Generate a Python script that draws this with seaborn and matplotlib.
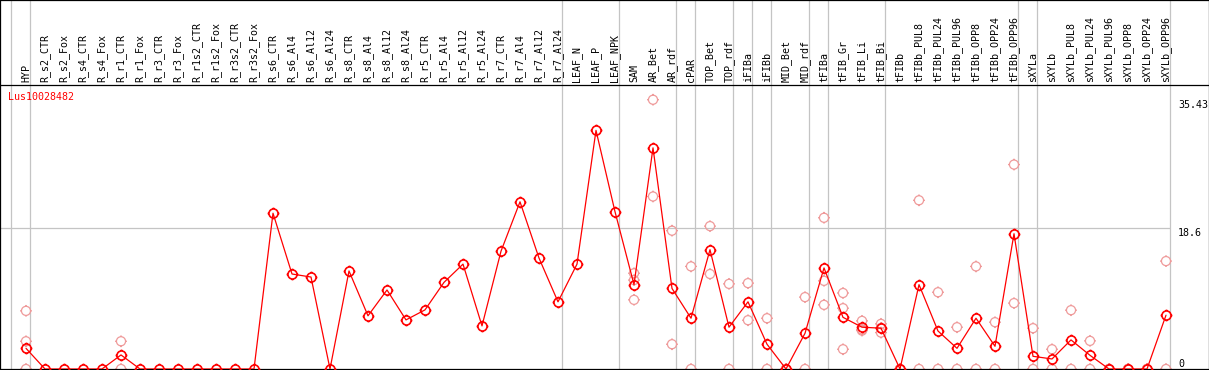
import numpy as np
import pandas as pd
import matplotlib
matplotlib.use("Agg")
import matplotlib.pyplot as plt
import matplotlib.transforms as mtransforms
from matplotlib.path import Path
import seaborn as sns

gene = "Lus10028482"
categories = [
    "HYP", "R_s2_CTR", "R_s2_Fox", "R_s4_CTR", "R_s4_Fox", "R_r1_CTR", "R_r1_Fox",
    "R_r3_CTR", "R_r3_Fox", "R_r1s2_CTR", "R_r1s2_Fox", "R_r3s2_CTR", "R_r3s2_Fox",
    "R_s6_CTR", "R_s6_Al4", "R_s6_Al12", "R_s6_Al24", "R_s8_CTR", "R_s8_Al4",
    "R_s8_Al12", "R_s8_Al24", "R_r5_CTR", "R_r5_Al4", "R_r5_Al12", "R_r5_Al24",
    "R_r7_CTR", "R_r7_Al4", "R_r7_Al12", "R_r7_Al24", "LEAF_N", "LEAF_P", "LEAF_NPK",
    "SAM", "AR_Bet", "AR_rdf", "cPAR", "TOP_Bet", "TOP_rdf", "iFIBa", "iFIBb",
    "MID_Bet", "MID_rdf", "tFIBa", "tFIB_Gr", "tFIB_Li", "tFIB_Bi", "tFIBb",
    "tFIBb_PUL8", "tFIBb_PUL24", "tFIBb_PUL96", "tFIBb_OPP8", "tFIBb_OPP24",
    "tFIBb_OPP96", "sXYLa", "sXYLb", "sXYLb_PUL8", "sXYLb_PUL24", "sXYLb_PUL96",
    "sXYLb_OPP8", "sXYLb_OPP24", "sXYLb_OPP96",
]
mean_values = [
    2.72, 0, 0, 0, 0, 1.85, 0,
    0, 0, 0, 0, 0, 0,
    20.5, 12.5, 12.1, 0, 12.9, 7.0,
    10.4, 6.46, 7.78, 11.4, 13.8, 5.67,
    15.5, 22.0, 14.6, 8.84, 13.8, 31.4, 20.7,
    11.1, 29.1, 10.6, 6.68, 15.7, 5.5, 8.84, 3.26,
    0, 4.7, 13.3, 6.8, 5.5, 5.37, 0,
    11.1, 5.0, 2.72, 6.68, 2.99,
    17.8, 1.67, 1.32, 3.83, 1.8, 0,
    0, 0, 7.08,
]
nan = np.nan
rep1 = [
    7.65, nan, nan, nan, nan, 3.65, nan,
    nan, nan, nan, nan, nan, nan,
    nan, nan, nan, nan, nan, nan,
    nan, nan, nan, nan, nan, nan,
    nan, nan, nan, nan, nan, nan, nan,
    12.6, 35.43, 18.2, 13.5, 18.8, 11.2, 11.3, 6.68,
    0, 9.46, 19.9, 10.0, 6.33, 5.94, 0,
    22.2, 10.1, 5.5, 13.5, 6.16,
    26.9, 5.37, 2.6, 7.74, 3.7, 0,
    0, 0, 14.2,
]
rep2 = [
    3.65, nan, nan, nan, nan, 0, nan,
    nan, nan, nan, nan, nan, nan,
    nan, nan, nan, nan, nan, nan,
    nan, nan, nan, nan, nan, nan,
    nan, nan, nan, nan, nan, nan, nan,
    11.7, 22.7, 3.26, 0, 12.5, 0, 6.42, 0,
    0, 0, 11.6, 8.0, 5.05, 4.79, 0,
    0, 0, 0, 0, 0,
    8.67, 0, 0, 0, 0, 0,
    0, 0, 0,
]
rep3 = [
    0, nan, nan, nan, nan, nan, nan,
    nan, nan, nan, nan, nan, nan,
    nan, nan, nan, nan, nan, nan,
    nan, nan, nan, nan, nan, nan,
    nan, nan, nan, nan, nan, nan, nan,
    9.1, nan, nan, nan, nan, nan, nan, nan,
    nan, nan, 8.44, 2.6, 5.2, 5.4, nan,
    nan, nan, nan, nan, nan,
    nan, nan, nan, nan, nan, nan,
    nan, nan, nan,
]
group_ends = [-1, 0, 28, 31, 34, 35, 37, 38, 39, 41, 42, 45, 52, 53, 60]
tick_values = [35.43, 18.6, 0]
tick_labels = ["35.43", "18.6", "0"]

sns.set_theme(style="white")
plt.rcParams['font.family'] = ['DejaVu Sans Mono', 'DejaVu Sans']

RED = "#ff0000"
PALE = "#ef9a9a"
GRAY = "#c4c4c4"
W, H = 1209, 370
head_h = 85
x0, step = 26, 19
ppu = 7.6

fig = plt.figure(figsize=(W / 100, H / 100), dpi=100)
fig.patch.set_facecolor("white")
ax = fig.add_axes([0, 1 / H, 1, (369 - head_h) / H])
axh = fig.add_axes([0, (H - head_h) / H, 1, head_h / H])

xlim = (-x0 / step, (W - x0) / step)
for a in (ax, axh):
    a.set_xlim(*xlim)
    a.set_facecolor("white")
    a.set_xticks([])
    a.set_yticks([])
    for s in a.spines.values():
        s.set_color("black")
        s.set_linewidth(0.9)
ax.spines["top"].set_visible(False)
ax.set_ylim(0, (369 - head_h) / ppu)
axh.set_ylim(0, 1)

# group separators
for b in group_ends:
    for a in (ax, axh):
        a.axvline(b + 0.23, color=GRAY, lw=0.9, zorder=0)

# horizontal grid line at mid tick
ax.hlines(tick_values[1], xlim[0], (1170 - x0) / step, color=GRAY, lw=0.9, zorder=0)

# marker: circle with 4 small ticks
circ = Path.circle((0, 0), 1.0)
verts = list(circ.vertices)
codes = list(circ.codes)
for a_, b_ in [((0, 1), (0, 1.3)), ((0, -1), (0, -1.3)), ((1, 0), (1.3, 0)), ((-1, 0), (-1.3, 0))]:
    verts += [a_, b_]
    codes += [Path.MOVETO, Path.LINETO]
mk = Path(verts, codes)

idx = np.arange(len(categories))
reps = pd.DataFrame({"idx": np.concatenate([idx, idx, idx]),
                     "value": np.concatenate([rep1, rep2, rep3])}).dropna()

sns.scatterplot(data=reps, x="idx", y="value", marker=mk, s=8.5 ** 2,
                linewidth=0.9, ax=ax, zorder=2, legend=False)
sc = ax.collections[-1]
sc.set_facecolor("none")
sc.set_edgecolor(PALE)

main = pd.DataFrame({"idx": idx, "value": mean_values})
sns.lineplot(data=main, x="idx", y="value", color=RED, lw=0.9, marker=mk,
             markersize=8.5, markerfacecolor="none", markeredgecolor=RED,
             markeredgewidth=1.2, ax=ax, zorder=3, legend=False)
ax.set_xlabel("")
ax.set_ylabel("")
ax.set_xlim(*xlim)
ax.set_ylim(0, (369 - head_h) / ppu)

# right-side value labels
tx = (1178 - x0) / step
for v, lab in zip(tick_values, tick_labels):
    ax.text(tx, v, lab, ha="left", va="bottom" if v == 0 else "top",
            fontsize=7.2, color="black")

# gene label
ax.text((8 - x0) / step, 1 - 7 / (369 - head_h), gene,
        transform=mtransforms.blended_transform_factory(ax.transData, ax.transAxes),
        ha="left", va="top", fontsize=7.2, color=RED)

# category labels
trans = mtransforms.blended_transform_factory(axh.transData, axh.transAxes)
for i, c in enumerate(categories):
    axh.text(i, 3 / head_h, c, rotation=90, ha="center", va="bottom",
             fontsize=7.2, color="black", transform=trans)

fig.savefig("out.png", dpi=100, facecolor="white")
